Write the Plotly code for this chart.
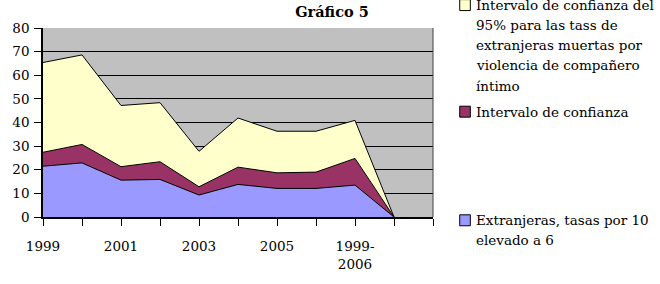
import plotly.graph_objects as go

# Data (stacked increments)
categories = ["1999", "2000", "2001", "2002", "2003", "2004", "2005", "2006", "1999-2006", ""]
tick_labels = ["1999", "", "2001", "", "2003", "", "2005", "", "1999-<br>2006", "", ""]
extranjeras = [21.5, 22.9, 15.6, 15.9, 9.3, 13.8, 12.1, 12.1, 13.5, 0]
intervalo = [5.9, 7.8, 5.7, 7.5, 3.5, 7.3, 6.6, 6.9, 11.3, 0]
intervalo95 = [38.0, 37.9, 25.9, 25.0, 15.0, 20.8, 17.6, 17.3, 16.1, 0]

names = [
    "Extranjeras, tasas por 10 elevado a 6",
    "Intervalo de confianza",
    "Intervalo de confianza del 95% para las tass de extranjeras muertas por violencia de compañero íntimo",
]
colors = ["#9999FF", "#993366", "#FFFFCC"]

W, H = 660, 284
L, R, T, B = 29, 226.7, 28, 66.3
PW, PH = W - L - R, H - T - B
FONT = "DejaVu Serif"

x = list(range(len(categories)))
fig = go.Figure()
for vals, name, col in zip([extranjeras, intervalo, intervalo95], names, colors):
    fig.add_trace(go.Scatter(
        x=x, y=vals, name=name, stackgroup="one", mode="lines",
        line=dict(color="black", width=1), fillcolor=col,
        hovertext=categories, showlegend=False,
    ))

def px(xp):
    return (xp - L) / PW

def py(yp):
    return (H - B - yp) / PH

annotations = []
shapes = []
legend_items = [
    (colors[2], ["Intervalo de confianza del", "95% para las tass de", "extranjeras muertas por",
                 "violencia de compañero", "íntimo"], 5),
    (colors[1], ["Intervalo de confianza"], 112),
    (colors[0], ["Extranjeras, tasas por 10", "elevado a 6"], 221),
]
for col, lines, y0 in legend_items:
    shapes.append(dict(type="rect", xref="paper", yref="paper",
                       x0=px(461), x1=px(472), y0=py(y0 - 5.5), y1=py(y0 + 5.5),
                       fillcolor=col, line=dict(color="black", width=1)))
    for i, t in enumerate(lines):
        annotations.append(dict(text=t, xref="paper", yref="paper", x=px(476), y=py(y0 + i * 20.2),
                                xanchor="left", yanchor="middle", showarrow=False,
                                font=dict(family=FONT, size=13.5, color="black")))

# right border of plot area
shapes.append(dict(type="line", xref="paper", yref="paper", x0=1, x1=1, y0=0, y1=1,
                   line=dict(color="#404040", width=1)))

fig.update_layout(
    width=W, height=H,
    margin=dict(l=L, r=R, t=T, b=B, pad=0),
    paper_bgcolor="white", plot_bgcolor="#C0C0C0",
    title=dict(text="<b>Gráfico 5</b>", x=332 / W, xanchor="center", y=1 - 12 / H, yanchor="middle",
               font=dict(family=FONT, size=14.5, color="black")),
    font=dict(family=FONT, size=13.5, color="black"),
    xaxis=dict(range=[0, 10], tickvals=list(range(11)), ticktext=tick_labels,
               showgrid=False, zeroline=False, showline=True, linecolor="black", linewidth=1.5,
               ticks="outside", ticklen=7, tickcolor="black", tickwidth=1,
               tickfont=dict(family=FONT, size=13.5, color="black"), ticklabelstandoff=9),
    yaxis=dict(range=[0, 80], dtick=10, showgrid=True, gridcolor="black", gridwidth=1,
               zeroline=False, showline=True, linecolor="black", linewidth=1.5,
               ticks="outside", ticklen=7, tickcolor="black", tickwidth=1,
               tickfont=dict(family=FONT, size=13.5, color="black"), ticklabelstandoff=2),
    annotations=annotations, shapes=shapes,
)

fig.write_html("out.html")
